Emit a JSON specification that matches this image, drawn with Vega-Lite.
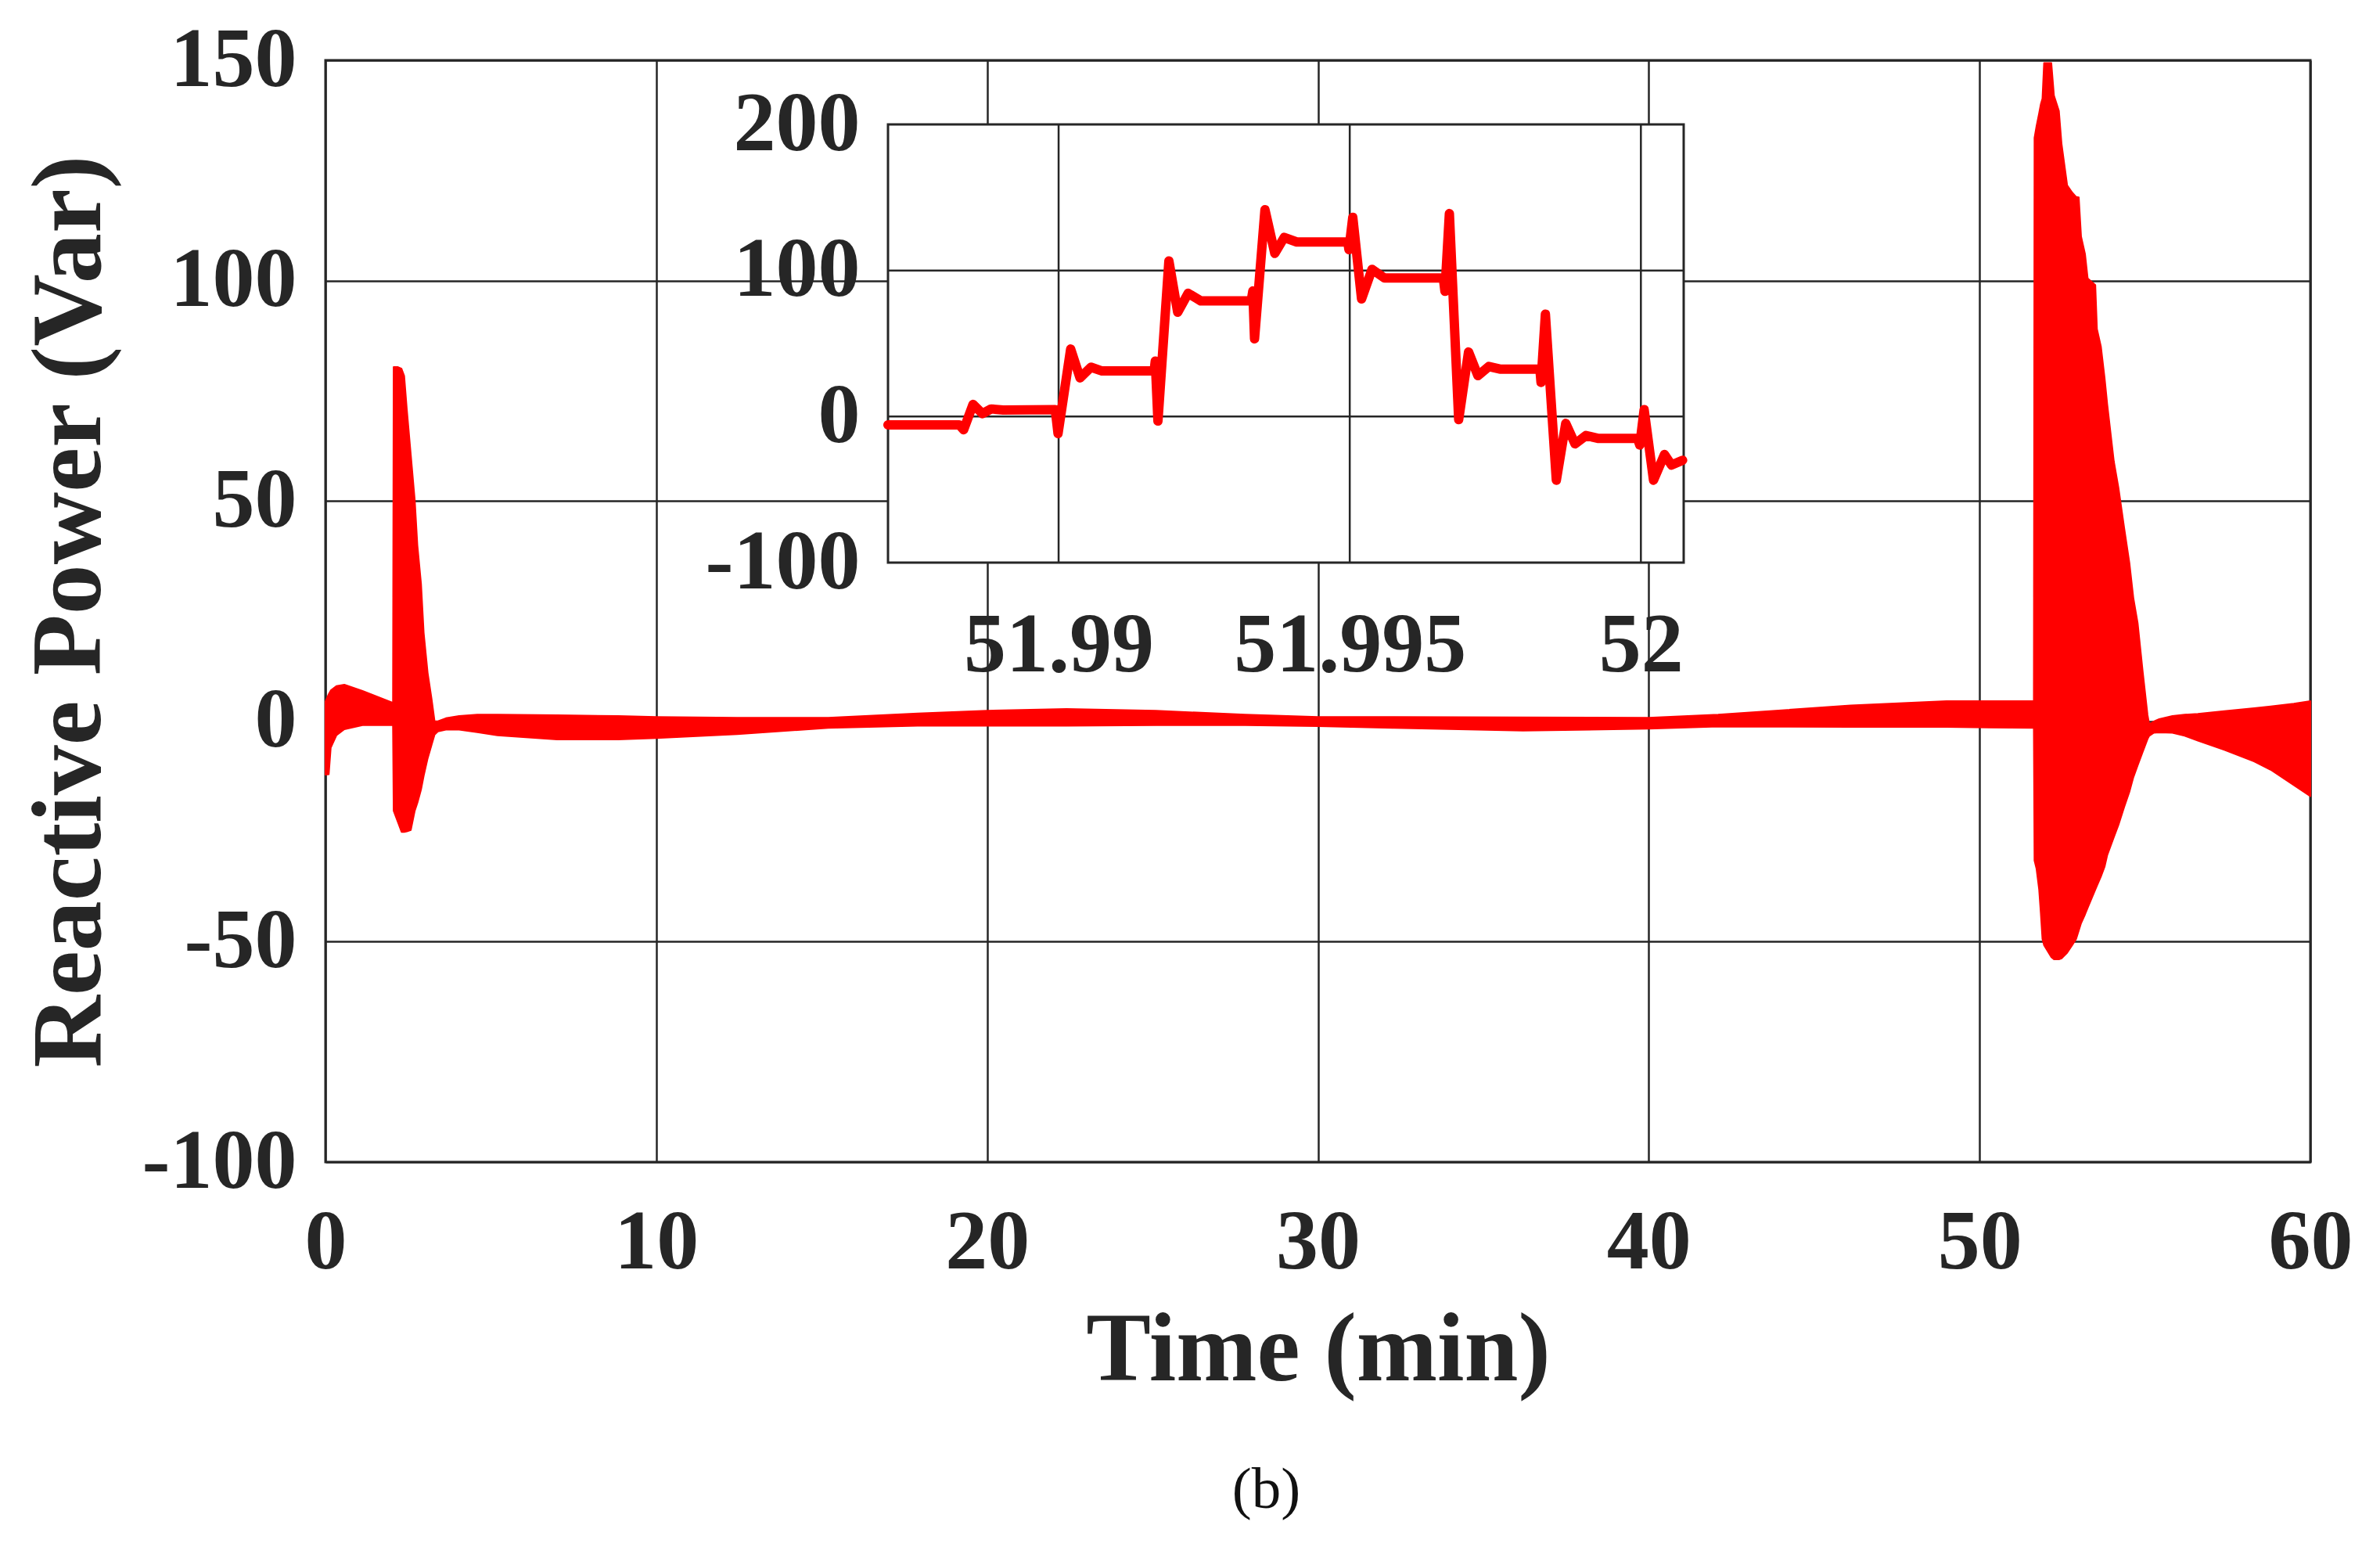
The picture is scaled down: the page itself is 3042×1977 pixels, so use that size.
{
  "$schema": "https://vega.github.io/schema/vega-lite/v6.json",
  "width": 2537,
  "height": 1408,
  "autosize": {"type": "none"},
  "padding": {"left": 416, "top": 77, "right": 89, "bottom": 492},
  "background": "white",
  "config": {
    "view": {"stroke": "#262626", "strokeWidth": 3},
    "font": "Liberation Serif",
    "axis": {
      "labelFont": "Liberation Serif", "labelFontWeight": "bold", "labelFontSize": 108, "labelColor": "#262626", "labelLimit": 1000,
      "titleFont": "Liberation Serif", "titleFontWeight": "bold", "titleFontSize": 124, "titleColor": "#262626",
      "ticks": false, "domain": false, "gridColor": "#262626", "gridWidth": 2.5, "gridOpacity": 1,
      "labelOverlap": false, "labelFlush": false, "labelBound": false
    }
  },
  "title": {"text": "(b)", "orient": "bottom", "anchor": "middle", "frame": "group", "font": "Liberation Serif", "fontSize": 75, "fontWeight": "normal", "color": "#111111", "dx": -66, "offset": 80},
  "datasets": {
    "main": [
      {"t": 0, "hi": 4.5, "lo": -12.1}, {"t": 0.1, "hi": 6.2, "lo": -12.0}, {"t": 0.16, "hi": 7.0, "lo": -6.0},
      {"t": 0.33, "hi": 8.0, "lo": -3.2}, {"t": 0.57, "hi": 8.3, "lo": -1.8}, {"t": 1.12, "hi": 6.9, "lo": -0.9},
      {"t": 2.04, "hi": 4.2, "lo": -0.9}, {"t": 2.06, "hi": 80.4, "lo": -20.3}, {"t": 2.18, "hi": 80.4, "lo": -22.7},
      {"t": 2.3, "hi": 80.0, "lo": -25.1}, {"t": 2.38, "hi": 78.4, "lo": -25.1}, {"t": 2.46, "hi": 70.8, "lo": -25.0},
      {"t": 2.58, "hi": 60.5, "lo": -24.7}, {"t": 2.7, "hi": 50.2, "lo": -20.3}, {"t": 2.78, "hi": 39.9, "lo": -18.5},
      {"t": 2.89, "hi": 31.2, "lo": -15.5}, {"t": 2.97, "hi": 20.1, "lo": -12.4}, {"t": 3.09, "hi": 11.0, "lo": -8.4},
      {"t": 3.21, "hi": 5.0, "lo": -5.3}, {"t": 3.3, "hi": 0.0, "lo": -3.0}, {"t": 3.4, "hi": 0.0, "lo": -2.3},
      {"t": 3.64, "hi": 0.7, "lo": -1.9}, {"t": 4.04, "hi": 1.2, "lo": -1.9}, {"t": 4.59, "hi": 1.5, "lo": -2.5},
      {"t": 5.2, "hi": 1.5, "lo": -3.2}, {"t": 7.0, "hi": 1.4, "lo": -4.1}, {"t": 8.85, "hi": 1.2, "lo": -4.1},
      {"t": 10, "hi": 1.0, "lo": -3.8}, {"t": 12.45, "hi": 0.8, "lo": -2.9}, {"t": 15.2, "hi": 0.8, "lo": -1.5},
      {"t": 17.9, "hi": 1.8, "lo": -1.0}, {"t": 20, "hi": 2.4, "lo": -1.0}, {"t": 22.4, "hi": 2.8, "lo": -1.0},
      {"t": 25.1, "hi": 2.4, "lo": -0.9}, {"t": 27.8, "hi": 1.5, "lo": -0.9}, {"t": 30, "hi": 1.0, "lo": -1.1},
      {"t": 32.3, "hi": 1.0, "lo": -1.5}, {"t": 36.2, "hi": 0.9, "lo": -2.1}, {"t": 40, "hi": 0.8, "lo": -1.7},
      {"t": 42.1, "hi": 1.5, "lo": -1.2}, {"t": 46.1, "hi": 3.6, "lo": -1.3}, {"t": 49, "hi": 4.6, "lo": -1.3},
      {"t": 51.64, "hi": 4.6, "lo": -1.5}, {"t": 51.66, "hi": 132.4, "lo": -31.6}, {"t": 51.72, "hi": 135, "lo": -33.4},
      {"t": 51.8, "hi": 138, "lo": -38.2}, {"t": 51.85, "hi": 140, "lo": -43.5}, {"t": 51.9, "hi": 141.3, "lo": -49.4},
      {"t": 51.95, "hi": 149.4, "lo": -50.8}, {"t": 52.17, "hi": 149.4, "lo": -53.5}, {"t": 52.25, "hi": 142, "lo": -54},
      {"t": 52.4, "hi": 138.5, "lo": -54}, {"t": 52.48, "hi": 131, "lo": -53.8}, {"t": 52.65, "hi": 121.6, "lo": -52.5},
      {"t": 52.8, "hi": 120, "lo": -50.8}, {"t": 52.92, "hi": 119, "lo": -49.4}, {"t": 53.0, "hi": 118.9, "lo": -47.5},
      {"t": 53.07, "hi": 110, "lo": -45.8}, {"t": 53.19, "hi": 106, "lo": -43.8}, {"t": 53.27, "hi": 100.5, "lo": -42.3},
      {"t": 53.5, "hi": 99, "lo": -38.2}, {"t": 53.55, "hi": 89, "lo": -37.3}, {"t": 53.67, "hi": 85, "lo": -35.2},
      {"t": 53.78, "hi": 78, "lo": -33}, {"t": 53.86, "hi": 72, "lo": -30.4}, {"t": 54.06, "hi": 59, "lo": -26.3},
      {"t": 54.2, "hi": 53, "lo": -23.5}, {"t": 54.37, "hi": 44, "lo": -19.5}, {"t": 54.53, "hi": 36, "lo": -16},
      {"t": 54.65, "hi": 28, "lo": -12.7}, {"t": 54.78, "hi": 22.3, "lo": -10}, {"t": 54.93, "hi": 11.5, "lo": -7},
      {"t": 55.08, "hi": 1.4, "lo": -4.0}, {"t": 55.13, "hi": -0.7, "lo": -3.3}, {"t": 55.27, "hi": 0.0, "lo": -2.6},
      {"t": 55.43, "hi": 0.5, "lo": -2.5}, {"t": 55.83, "hi": 1.2, "lo": -2.6}, {"t": 56.2, "hi": 1.5, "lo": -3.3},
      {"t": 56.6, "hi": 1.7, "lo": -4.4}, {"t": 57.4, "hi": 2.3, "lo": -6.5}, {"t": 58.3, "hi": 3.0, "lo": -9.1},
      {"t": 58.8, "hi": 3.4, "lo": -11}, {"t": 59.5, "hi": 4.0, "lo": -14.5}, {"t": 60, "hi": 4.6, "lo": -17}
    ],
    "inset": [
      {"t": 51.987069, "q": -5.7}, {"t": 51.988294, "q": -5.7}, {"t": 51.988369, "q": -9}, {"t": 51.98853, "q": 8.3},
      {"t": 51.98869, "q": 2}, {"t": 51.988841, "q": 5.2}, {"t": 51.989048, "q": 4.5}, {"t": 51.989943, "q": 4.7},
      {"t": 51.98999, "q": -11.7}, {"t": 51.990207, "q": 46.2}, {"t": 51.990368, "q": 26.5}, {"t": 51.990556, "q": 33.8},
      {"t": 51.990745, "q": 31.2}, {"t": 51.99164, "q": 31.2}, {"t": 51.99166, "q": 38}, {"t": 51.991706, "q": -3.1},
      {"t": 51.991894, "q": 106.5}, {"t": 51.992045, "q": 71.4}, {"t": 51.992224, "q": 84.4}, {"t": 51.992441, "q": 79.2},
      {"t": 51.993308, "q": 79.2}, {"t": 51.993336, "q": 86}, {"t": 51.993365, "q": 53.2}, {"t": 51.993544, "q": 141.6},
      {"t": 51.993713, "q": 111.7}, {"t": 51.993874, "q": 122.6}, {"t": 51.99409, "q": 119.5}, {"t": 51.994967, "q": 119.5},
      {"t": 51.994986, "q": 114.3}, {"t": 51.995052, "q": 136.4}, {"t": 51.995203, "q": 80.5}, {"t": 51.995382, "q": 100.8},
      {"t": 51.995598, "q": 94.8}, {"t": 51.996607, "q": 94.8}, {"t": 51.996635, "q": 85.7}, {"t": 51.996711, "q": 139},
      {"t": 51.996871, "q": -2.1}, {"t": 51.99704, "q": 44.2}, {"t": 51.997201, "q": 28}, {"t": 51.997389, "q": 34.3},
      {"t": 51.997578, "q": 32.5}, {"t": 51.998266, "q": 32.5}, {"t": 51.998285, "q": 23.4}, {"t": 51.99836, "q": 70.1},
      {"t": 51.998548, "q": -43.6}, {"t": 51.998709, "q": -4.7}, {"t": 51.998869, "q": -18.7}, {"t": 51.999057, "q": -13},
      {"t": 51.999274, "q": -15}, {"t": 51.999943, "q": -15}, {"t": 51.999981, "q": -19.5}, {"t": 52.000056, "q": 4.7},
      {"t": 52.000217, "q": -43.6}, {"t": 52.000405, "q": -26}, {"t": 52.000527, "q": -33.2}, {"t": 52.000716, "q": -29.9}
    ],
    "vgrid": [{"g": 51.99}, {"g": 51.995}, {"g": 52}],
    "hgrid": [{"h": 0}, {"h": 100}]
  },
  "layer": [
    {
      "data": {"name": "main"},
      "mark": {"type": "area", "orient": "vertical", "color": "#ff0000", "stroke": "#ff0000", "strokeWidth": 2, "strokeJoin": "round"},
      "encoding": {
        "x": {"field": "t", "type": "quantitative", "scale": {"domain": [0, 60], "nice": false, "zero": false},
              "axis": {"values": [0, 10, 20, 30, 40, 50, 60], "grid": true, "title": "Time (min)", "labelPadding": 50, "titlePadding": 23}},
        "y": {"field": "hi", "type": "quantitative", "scale": {"domain": [-100, 150], "nice": false, "zero": false},
              "axis": {"values": [-100, -50, 0, 50, 100, 150], "grid": true, "title": "Reactive Power (Var)", "titleFontSize": 128, "labelPadding": 37, "titlePadding": 62,
                       "labelExpr": "replace(datum.label, '\u2212', '-')"}},
        "y2": {"field": "lo"}
      }
    },
    {
      "data": {"values": [{}]},
      "mark": {"type": "rect", "fill": "white", "stroke": "#262626", "strokeWidth": 3},
      "encoding": {
        "x": {"datum": 51.98707, "type": "quantitative", "scale": {"domain": [51.98707, 52.000735], "range": [719, 1736], "nice": false, "zero": false}, "axis": null},
        "x2": {"datum": 52.000735},
        "y": {"datum": -100, "type": "quantitative", "scale": {"domain": [-100, 200], "range": [642, 82], "nice": false, "zero": false}, "axis": null},
        "y2": {"datum": 200}
      }
    },
    {
      "data": {"name": "vgrid"},
      "mark": {"type": "rule", "color": "#262626", "strokeWidth": 2.5},
      "encoding": {
        "x": {"field": "g", "type": "quantitative", "scale": {"domain": [51.98707, 52.000735], "range": [719, 1736], "nice": false, "zero": false}, "axis": null},
        "y": {"datum": -100, "type": "quantitative", "scale": {"domain": [-100, 200], "range": [642, 82], "nice": false, "zero": false}, "axis": null},
        "y2": {"datum": 200}
      }
    },
    {
      "data": {"name": "hgrid"},
      "mark": {"type": "rule", "color": "#262626", "strokeWidth": 2.5},
      "encoding": {
        "y": {"field": "h", "type": "quantitative", "scale": {"domain": [-100, 200], "range": [642, 82], "nice": false, "zero": false}, "axis": null},
        "x": {"datum": 51.98707, "type": "quantitative", "scale": {"domain": [51.98707, 52.000735], "range": [719, 1736], "nice": false, "zero": false}, "axis": null},
        "x2": {"datum": 52.000735}
      }
    },
    {
      "data": {"name": "inset"},
      "mark": {"type": "line", "color": "#ff0000", "strokeWidth": 12, "strokeJoin": "round", "strokeCap": "round"},
      "encoding": {
        "x": {"field": "t", "type": "quantitative", "scale": {"domain": [51.98707, 52.000735], "range": [719, 1736], "nice": false, "zero": false},
              "axis": {"orient": "bottom", "offset": -766, "values": [51.99, 51.995, 52], "format": "~g", "grid": false, "title": null, "labelPadding": 53}},
        "y": {"field": "q", "type": "quantitative", "scale": {"domain": [-100, 200], "range": [642, 82], "nice": false, "zero": false},
              "axis": {"orient": "left", "offset": -719, "values": [-100, 0, 100, 200], "grid": false, "title": null, "labelPadding": 36,
                       "labelExpr": "replace(datum.label, '\u2212', '-')"}}
      }
    }
  ],
  "resolve": {"scale": {"x": "independent", "y": "independent"}, "axis": {"x": "independent", "y": "independent"}}
}
